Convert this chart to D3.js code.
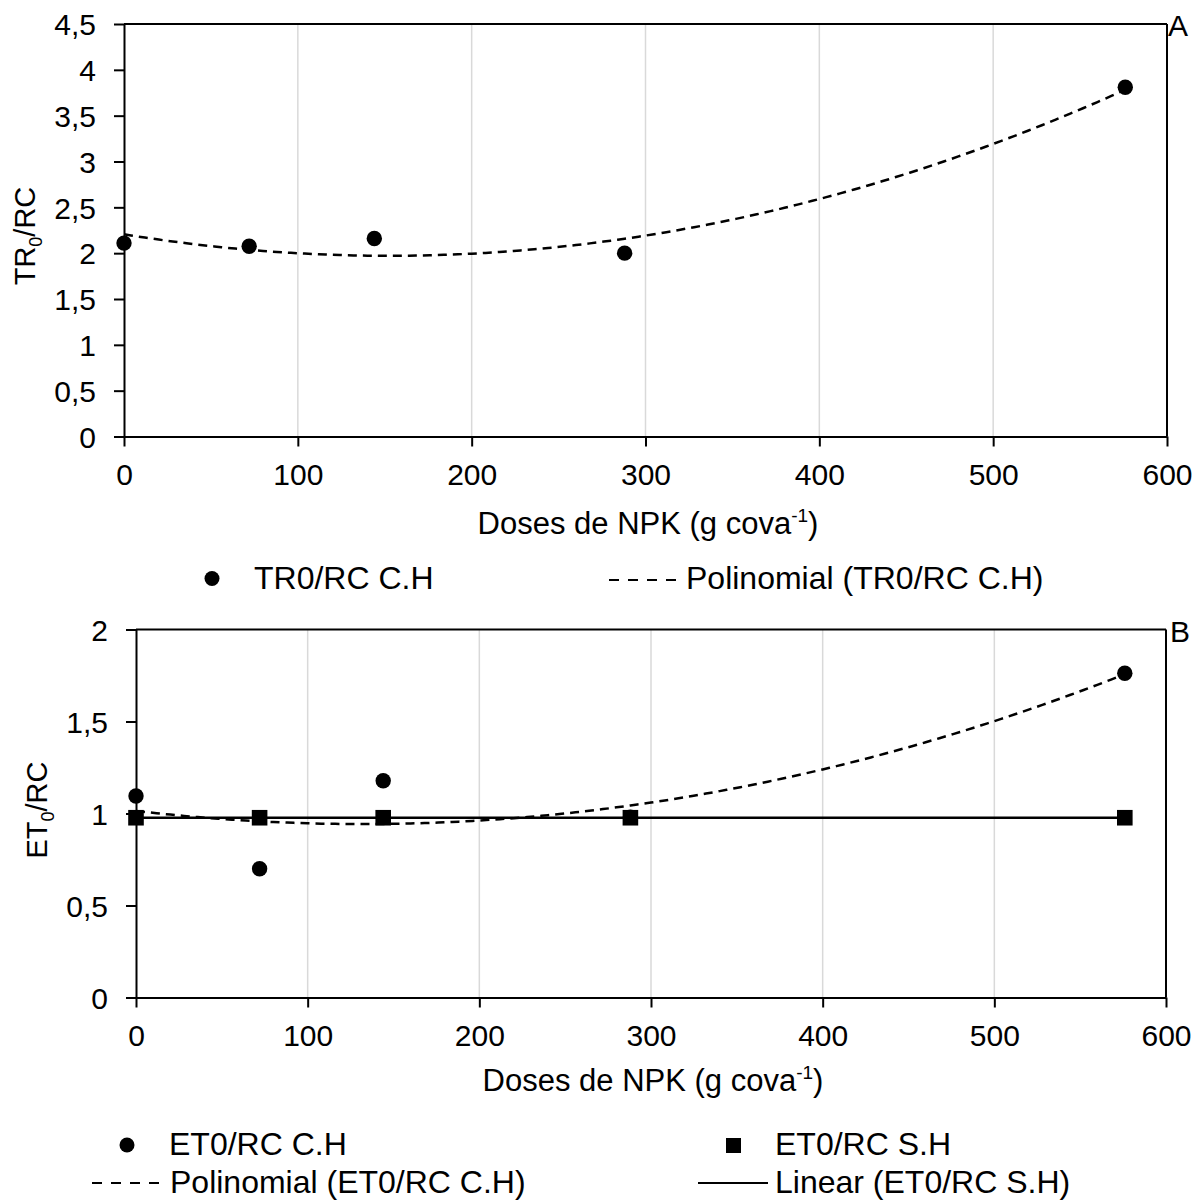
<!DOCTYPE html>
<html>
<head>
<meta charset="utf-8">
<script src="https://cdn.jsdelivr.net/npm/d3@7"></script>
<style>
  html, body { margin: 0; padding: 0; background: #fff; }
  svg text { font-family: "Liberation Sans", Arial, sans-serif; fill: #000; }
</style>
</head>
<body>
<svg id="chart" width="1196" height="1200"></svg>
<script>
// ---- data ----
const doses = [0, 72, 144, 288, 576];
const tr0RcCH = [2.11, 2.075, 2.16, 2.0, 3.81];
const et0RcCH = [1.095, 0.70, 1.178, 0.98, 1.762];
const et0RcSH = [0.977, 0.977, 0.977, 0.977, 0.977];
const xTickValues = [0, 100, 200, 300, 400, 500, 600];
const yTicksA = [0, 0.5, 1, 1.5, 2, 2.5, 3, 3.5, 4, 4.5];
const yTicksB = [0, 0.5, 1, 1.5, 2];
const gridX = [100, 200, 300, 400, 500];
const legendA = ["TR0/RC C.H", "Polinomial (TR0/RC C.H)"];
const legendB = ["ET0/RC C.H", "ET0/RC S.H", "Polinomial (ET0/RC C.H)", "Linear (ET0/RC S.H)"];

// least-squares polynomial fit (Excel-style trendline)
function polyfit(xs, ys, deg) {
  const n = deg + 1;
  const A = Array.from({length: n}, () => new Array(n + 1).fill(0));
  for (let r = 0; r < n; r++) {
    for (let c = 0; c < n; c++) A[r][c] = d3.sum(xs, x => Math.pow(x, r + c));
    A[r][n] = d3.sum(xs.map((x, i) => ys[i] * Math.pow(x, r)));
  }
  for (let i = 0; i < n; i++) {
    let p = i;
    for (let k = i + 1; k < n; k++) if (Math.abs(A[k][i]) > Math.abs(A[p][i])) p = k;
    [A[i], A[p]] = [A[p], A[i]];
    for (let k = 0; k < n; k++) {
      if (k === i) continue;
      const f = A[k][i] / A[i][i];
      for (let j = i; j <= n; j++) A[k][j] -= f * A[i][j];
    }
  }
  const coef = A.map((row, i) => row[n] / row[i]);
  return x => coef.reduce((s, c, i) => s + c * Math.pow(x, i), 0);
}

const fmt = v => String(v).replace('.', ',');
const svg = d3.select("#chart");
const FS_TICK = 30, FS_TITLE = 31, FS_LEG = 32, FS_YT = 29;

function panel(cfg) {
  const x = d3.scaleLinear().domain([0, 600]).range([cfg.left, cfg.right]);
  const y = d3.scaleLinear().domain([0, cfg.ymax]).range([cfg.bottom, cfg.top]);
  const g = svg.append("g");

  // gridlines
  g.selectAll(".grid").data(gridX).join("line")
    .attr("x1", d => x(d)).attr("x2", d => x(d))
    .attr("y1", cfg.top).attr("y2", cfg.bottom)
    .attr("stroke", "#d9d9d9").attr("stroke-width", 1.5);

  // border top & right
  g.append("line").attr("x1", cfg.left).attr("x2", cfg.right).attr("y1", cfg.top).attr("y2", cfg.top)
    .attr("stroke", "#000").attr("stroke-width", 2);
  g.append("line").attr("x1", cfg.right).attr("x2", cfg.right).attr("y1", cfg.top).attr("y2", cfg.bottom)
    .attr("stroke", "#000").attr("stroke-width", 2);

  // axes
  const ax = g.append("g").attr("transform", `translate(0,${cfg.bottom})`)
    .call(d3.axisBottom(x).tickValues(xTickValues).tickSize(10).tickSizeOuter(0).tickPadding(17).tickFormat(d => d));
  const ay = g.append("g").attr("transform", `translate(${cfg.left},0)`)
    .call(d3.axisLeft(y).tickValues(cfg.yticks).tickSize(10).tickSizeOuter(0).tickPadding(18).tickFormat(fmt));
  [ax, ay].forEach(a => {
    a.select(".domain").attr("stroke", "#000").attr("stroke-width", 2);
    a.selectAll(".tick line").attr("stroke", "#000").attr("stroke-width", 2);
    a.selectAll(".tick text").attr("font-size", FS_TICK).attr("font-family", "Liberation Sans, Arial, sans-serif").attr("fill", "#000");
  });
  ay.selectAll(".tick text").attr("dy", "0.36em");

  // x title
  const xt = g.append("text").attr("x", cfg.xtc).attr("y", cfg.bottom + cfg.xtDy)
    .attr("text-anchor", "middle").attr("font-size", FS_TITLE);
  xt.append("tspan").text("Doses de NPK (g cova");
  xt.append("tspan").text("-1").attr("font-size", 19).attr("dy", -12);
  xt.append("tspan").text(")").attr("dy", 12);

  // y title
  const yt = g.append("text")
    .attr("transform", `translate(${cfg.ytx},${cfg.tyc}) rotate(-90)`)
    .attr("text-anchor", "middle").attr("font-size", FS_YT);
  yt.append("tspan").text(cfg.ytitle[0]);
  yt.append("tspan").text("0").attr("font-size", 18).attr("dy", 7);
  yt.append("tspan").text("/RC").attr("dy", -7);

  // panel letter
  g.append("text").attr("x", cfg.letterX).attr("y", cfg.letterY).attr("font-size", FS_TICK).text(cfg.letter);

  return {x, y, g};
}

// ---------- Panel A ----------
const A = panel({left: 124, right: 1167, top: 24, bottom: 436.5, ymax: 4.5, yticks: yTicksA,
  ytitle: ["TR"], ytx: 35, tyc: 236, letter: "A", letterX: 1168, letterY: 36, xtc: 648, xtDy: 97});
{
  const f = polyfit(doses, tr0RcCH, 2);
  const xs = d3.range(0, 576.01, 4);
  A.g.append("path").datum(xs)
    .attr("d", d3.line().x(d => A.x(d)).y(d => A.y(f(d))))
    .attr("fill", "none").attr("stroke", "#000").attr("stroke-width", 2.5).attr("stroke-dasharray", "9,6");
  A.g.selectAll(".pt").data(doses).join("circle")
    .attr("cx", d => A.x(d)).attr("cy", (d, i) => A.y(tr0RcCH[i])).attr("r", 7.7).attr("fill", "#000");
}
// legend A
{
  const lg = svg.append("g");
  lg.append("circle").attr("cx", 212).attr("cy", 578.5).attr("r", 7.5).attr("fill", "#000");
  lg.append("text").attr("x", 254).attr("y", 589).attr("font-size", FS_LEG).text(legendA[0]);
  lg.append("line").attr("x1", 609).attr("x2", 679).attr("y1", 580).attr("y2", 580)
    .attr("stroke", "#000").attr("stroke-width", 2).attr("stroke-dasharray", "10,9");
  lg.append("text").attr("x", 686).attr("y", 589).attr("font-size", FS_LEG).text(legendA[1]);
}

// ---------- Panel B ----------
const B = panel({left: 136, right: 1166, top: 629.5, bottom: 997.5, ymax: 2, yticks: yTicksB,
  ytitle: ["ET"], ytx: 47, tyc: 810, letter: "B", letterX: 1170, letterY: 642, xtc: 653, xtDy: 93});
{
  const f = polyfit(doses, et0RcCH, 2);
  const fl = polyfit(doses, et0RcSH, 1);
  const xs = d3.range(0, 576.01, 4);
  B.g.append("path").datum(xs)
    .attr("d", d3.line().x(d => B.x(d)).y(d => B.y(f(d))))
    .attr("fill", "none").attr("stroke", "#000").attr("stroke-width", 2.5).attr("stroke-dasharray", "9,6");
  B.g.append("path").datum([0, 576])
    .attr("d", d3.line().x(d => B.x(d)).y(d => B.y(fl(d))))
    .attr("fill", "none").attr("stroke", "#000").attr("stroke-width", 2.5);
  B.g.selectAll(".pt").data(doses).join("circle")
    .attr("cx", d => B.x(d)).attr("cy", (d, i) => B.y(et0RcCH[i])).attr("r", 7.7).attr("fill", "#000");
  B.g.selectAll(".sq").data(doses).join("rect")
    .attr("x", d => B.x(d) - 7.8).attr("y", (d, i) => B.y(et0RcSH[i]) - 7.8)
    .attr("width", 15.6).attr("height", 15.6).attr("fill", "#000");
}
// legend B
{
  const lg = svg.append("g");
  lg.append("circle").attr("cx", 127).attr("cy", 1145).attr("r", 7.5).attr("fill", "#000");
  lg.append("text").attr("x", 169).attr("y", 1155).attr("font-size", FS_LEG).text(legendB[0]);
  lg.append("rect").attr("x", 726).attr("y", 1138).attr("width", 15).attr("height", 15).attr("fill", "#000");
  lg.append("text").attr("x", 775).attr("y", 1155).attr("font-size", FS_LEG).text(legendB[1]);
  lg.append("line").attr("x1", 92).attr("x2", 160).attr("y1", 1183).attr("y2", 1183)
    .attr("stroke", "#000").attr("stroke-width", 2).attr("stroke-dasharray", "10,9");
  lg.append("text").attr("x", 170).attr("y", 1193).attr("font-size", FS_LEG).text(legendB[2]);
  lg.append("line").attr("x1", 698).attr("x2", 768).attr("y1", 1183).attr("y2", 1183)
    .attr("stroke", "#000").attr("stroke-width", 2);
  lg.append("text").attr("x", 775).attr("y", 1193).attr("font-size", FS_LEG).text(legendB[3]);
}
</script>
</body>
</html>
